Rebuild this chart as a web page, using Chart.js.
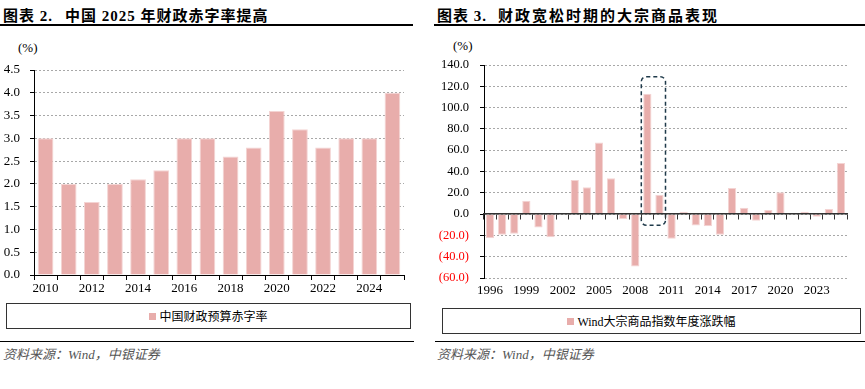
<!DOCTYPE html>
<html>
<head>
<meta charset="utf-8">
<script src="https://cdn.jsdelivr.net/npm/chart.js@4/dist/chart.umd.min.js"></script>
<style>
  body { margin: 0; width: 865px; height: 389px; background: #fff; position: relative; overflow: hidden; }
  .abs { position: absolute; }
  .title { top: 4px; font: bold 15px "Liberation Serif", "Noto Sans CJK SC"; letter-spacing: 1px; color: #000; white-space: nowrap; }
  .rule { height: 1.5px; background: #000; }
  .unit { font: 13px "Liberation Serif", "Noto Sans CJK SC"; color: #000; }
  .legend { border: 1px solid #333; box-sizing: border-box; display: flex; align-items: center; justify-content: center;
            font: 12px "Liberation Serif", "Noto Sans CJK SC"; color: #000; }
  .legend i { display: inline-block; width: 7px; height: 7px; background: #e8adab; margin-right: 3px; }
  .source { font: italic 13px "Liberation Serif", "Noto Sans CJK SC"; color: #555; white-space: nowrap; }
</style>
</head>
<body>
  <div class="abs title" style="left:3px">图表 2.<span style="margin-left:12px;letter-spacing:1px">中国 2025 年财政赤字率提高</span></div>
  <div class="abs rule" style="left:0;top:24px;width:413px"></div>
  <div class="abs unit" style="left:18px;top:40px">(%)</div>
  <canvas id="deficitChart" class="abs" style="left:0;top:60px" width="413" height="240"></canvas>
  <div class="abs legend" style="left:6px;top:303px;width:405px;height:26px"><i></i>中国财政预算赤字率</div>
  <div class="abs rule" style="left:0;top:341px;width:414px;height:1px"></div>
  <div class="abs source" style="left:3px;top:344px">资料来源：Wind，中银证券</div>

  <div class="abs title" style="left:437px">图表 3.<span style="margin-left:11px;letter-spacing:2px">财政宽松时期的大宗商品表现</span></div>
  <div class="abs rule" style="left:434px;top:24px;width:431px"></div>
  <div class="abs unit" style="left:453px;top:38px">(%)</div>
  <canvas id="commodityChart" class="abs" style="left:430px;top:55px" width="435" height="245"></canvas>
  <div class="abs legend" style="left:442px;top:308px;width:419px;height:26px"><i></i>Wind大宗商品指数年度涨跌幅</div>
  <div class="abs rule" style="left:435px;top:341px;width:430px;height:1px"></div>
  <div class="abs source" style="left:437px;top:344px">资料来源：Wind，中银证券</div>

<script>
// Chart 2: fiscal deficit ratio
const deficitYears = ['2010', '2011', '2012', '2013', '2014', '2015', '2016', '2017',
  '2018', '2019', '2020', '2021', '2022', '2023', '2024', '2025'];
const deficitRates = [3.0, 2.0, 1.6, 2.0, 2.1, 2.3, 3.0, 3.0, 2.6, 2.8, 3.6, 3.2, 2.8, 3.0, 3.0, 4.0];

// Chart 3: Wind commodity index yearly change
const commodityYears = ['1996', '1997', '1998', '1999', '2000', '2001', '2002', '2003', '2004', '2005',
  '2006', '2007', '2008', '2009', '2010', '2011', '2012', '2013', '2014', '2015',
  '2016', '2017', '2018', '2019', '2020', '2021', '2022', '2023', '2024', '2025'];
const commodityChange = [-22.6, -19.5, -18.5, 12.6, -12.5, -21.7, 0, 32.0, 25.1, 67.2,
  33.6, -4.7, -49.3, 113.0, 18.2, -23.2, 2.2, -10.7, -11.3, -19.5,
  24.5, 6.0, -6.3, 3.8, 20.4, 0, 2.2, -2.5, 4.7, 48.0];

// highlighted period (dashed box)
const highlightYears = ['2009', '2010'];
const highlightRange = [-10.5, 129];

const barColor = '#e8adab';
const gridColor = '#a8a8a8';
const tickFont = { family: 'Liberation Serif', size: 13 };

Chart.defaults.font.family = 'Liberation Serif';
Chart.defaults.color = '#000';

// fixed axis size, and no extra label padding pushed into the layout
const fixWidth = w => s => { s.width = w; s.paddingTop = 0; s.paddingBottom = 0; };
const fixHeight = h => s => { s.height = h; s.paddingLeft = 0; s.paddingRight = 0; };

new Chart(document.getElementById('deficitChart'), {
  type: 'bar',
  data: {
    labels: deficitYears,
    datasets: [{
      label: '中国财政预算赤字率',
      data: deficitRates,
      backgroundColor: barColor,
      borderColor: '#f4d4d3',
      borderWidth: 1,
      categoryPercentage: 1,
      barPercentage: 0.68
    }]
  },
  options: {
    responsive: false,
    animation: false,
    layout: { padding: { top: 10, right: 9, left: 0, bottom: 0 } },
    plugins: { legend: { display: false }, tooltip: { enabled: false } },
    scales: {
      x: {
        offset: true,
        grid: { display: true, drawOnChartArea: false, offset: true, tickLength: 5, tickColor: '#000' },
        border: { color: '#000', width: 1 },
        ticks: {
          font: tickFont, padding: 1, autoSkip: false, maxRotation: 0,
          callback: (v, i) => (i % 2 === 0 ? deficitYears[i] : '')
        },
        afterFit: fixHeight(25)
      },
      y: {
        min: 0,
        max: 4.5,
        grid: { color: gridColor, tickColor: '#000', tickLength: 4 },
        border: { color: '#000', width: 1, dash: [2, 2] },
        ticks: { stepSize: 0.5, font: tickFont, padding: 10, callback: v => v.toFixed(1) },
        afterFit: fixWidth(34)
      }
    }
  }
});

// dashed rounded box around the highlighted years
const highlightBox = {
  id: 'highlightBox',
  afterDatasetsDraw(chart) {
    const x = chart.scales.x;
    const y = chart.scales.y;
    const step = x.width / commodityYears.length;
    const i0 = commodityYears.indexOf(highlightYears[0]);
    const i1 = commodityYears.indexOf(highlightYears[1]);
    const left = x.getPixelForValue(i0) - step / 2;
    const right = x.getPixelForValue(i1) + step / 2;
    const top = y.getPixelForValue(highlightRange[1]);
    const bottom = y.getPixelForValue(highlightRange[0]);
    const ctx = chart.ctx;
    ctx.save();
    ctx.strokeStyle = '#1f3a4a';
    ctx.lineWidth = 1.5;
    ctx.setLineDash([4, 3]);
    ctx.beginPath();
    ctx.roundRect(left, top, right - left, bottom - top, 5);
    ctx.stroke();
    ctx.restore();
  }
};

new Chart(document.getElementById('commodityChart'), {
  type: 'bar',
  data: {
    labels: commodityYears,
    datasets: [{
      label: 'Wind大宗商品指数年度涨跌幅',
      data: commodityChange,
      xAxisID: 'x',
      backgroundColor: barColor,
      borderColor: '#f4d4d3',
      borderWidth: 1,
      categoryPercentage: 1,
      barPercentage: 0.68
    }]
  },
  options: {
    responsive: false,
    animation: false,
    layout: { padding: { top: 10, right: 18, left: 0, bottom: 0 } },
    plugins: { legend: { display: false }, tooltip: { enabled: false } },
    scales: {
      x: {
        offset: true,
        grid: { display: false, drawTicks: false },
        border: { display: false },
        ticks: {
          font: tickFont, padding: 5, autoSkip: false, maxRotation: 0,
          callback: (v, i) => (i % 3 === 0 ? commodityYears[i] : '')
        },
        afterFit: fixHeight(22)
      },
      xZero: {
        type: 'category',
        position: { y: 0 },
        offset: true,
        grid: { display: true, drawOnChartArea: false, offset: true, tickLength: 5, tickColor: '#333', z: 1 },
        border: { color: '#333', width: 1.5, z: 1 },
        ticks: { display: false }
      },
      y: {
        min: -60,
        max: 140,
        grid: { color: gridColor, tickColor: '#000', tickLength: 4 },
        border: { color: '#000', width: 1, dash: [2, 2] },
        ticks: {
          stepSize: 20, font: { family: 'Liberation Serif', size: 12.5 }, padding: 11,
          color: ctx => (ctx.tick.value < 0 ? '#ff0000' : '#000'),
          callback: v => (v < 0 ? '(' + Math.abs(v).toFixed(1) + ')' : v.toFixed(1))
        },
        afterFit: fixWidth(54)
      }
    }
  },
  plugins: [highlightBox]
});
</script>
</body>
</html>
